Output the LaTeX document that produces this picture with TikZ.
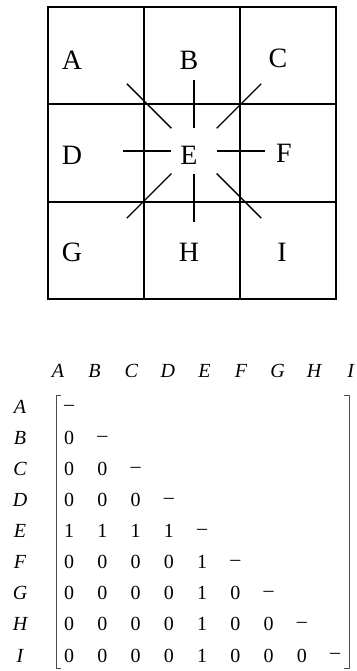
\documentclass[tikz,border=0pt]{standalone}
\usepackage{fontspec}
\setmainfont{Liberation Serif}
\usetikzlibrary{calc}

\begin{document}
\begin{tikzpicture}[x=1pt, y=1pt,
        every node/.style={inner sep=0pt},
        letra/.style={font=\fontsize{28}{32}\selectfont},
        rotulo/.style={anchor=base, font=\fontsize{20}{22}\selectfont\itshape},
        entrada/.style={anchor=base, font=\fontsize{20}{22}\selectfont},
        linha/.style={line width=2pt},
        raio/.style={line width=1.4pt},
        colchete/.style={line width=0.9pt, black!70}
    ]
        \useasboundingbox (0,0) rectangle (356,671);
        % grade 3x3
        \draw[linha] (48,372) rectangle (336,664);
        \draw[linha] (144,372) -- (144,664) (240,372) -- (240,664);
        \draw[linha] (48,469) -- (336,469) (48,567) -- (336,567);
        \node[letra] (A) at (72,611) {A};
        \node[letra] (B) at (189,611) {B};
        \node[letra] (C) at (278,613) {C};
        \node[letra] (D) at (72,516) {D};
        \node[letra] (E) at (189,516) {E};
        \node[letra] (F) at (284,518) {F};
        \node[letra] (G) at (72,419) {G};
        \node[letra] (H) at (189,419) {H};
        \node[letra] (I) at (282,419) {I};
        % raios em volta de E
        \coordinate (cubo) at (194,520);
        \foreach \ang in {0,90,180,270}
            \draw[raio] ($(cubo)+(\ang:23)$) -- ($(cubo)+(\ang:71)$);
        \foreach \ang in {45,135,225,315}
            \draw[raio] ($(cubo)+(\ang:32)$) -- ($(cubo)+(\ang:95)$);
        % matriz de adjacencia
        \foreach \c [count=\j from 0] in {A,...,I}
            \node[rotulo] (col\c) at (58+36.6*\j,293) {\c};
        \foreach \c [count=\i from 0] in {A,...,I}
            \node[rotulo] (lin\c) at (20,257-31*\i) {\c};
        \foreach \r in {0,...,8}{
            \foreach \c in {0,...,\r}{
                \ifnum\c=\r \def\valor{\raisebox{3.5pt}{--}}\else
                \ifnum\r=4 \def\valor{1}\else
                \ifnum\c=4 \def\valor{1}\else \def\valor{0}\fi\fi\fi
                \node[entrada] (m-\r-\c) at (69+33.25*\c,257-31*\r) {\valor};
            }
        }
        \draw[colchete] (61,276) -- (56,276) -- (56,3) -- (61,3);
        \draw[colchete] (344,276) -- (349,276) -- (349,3) -- (344,3);
    \end{tikzpicture}
\end{document}
